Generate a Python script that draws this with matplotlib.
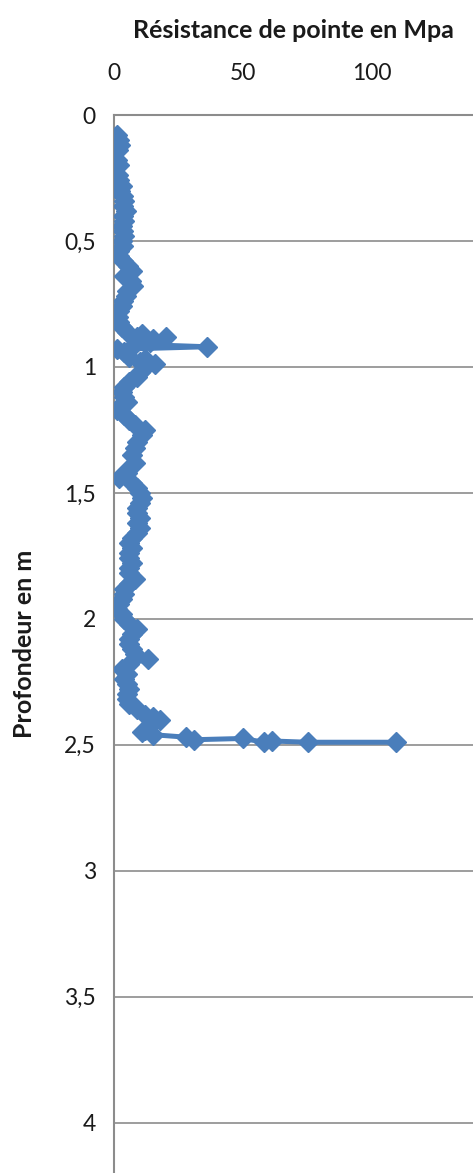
import matplotlib
matplotlib.use("Agg")
import matplotlib.pyplot as plt
from matplotlib.ticker import FuncFormatter, MultipleLocator

BLUE = "#4A7EBB"
GRID_COL = "#8c8c8c"
FONT = ["Lato", "DejaVu Sans"]

# Profondeur (m) et résistance de pointe (MPa)
profondeur = [
    0.08, 0.10, 0.12, 0.14, 0.18, 0.20, 0.24, 0.26, 0.28, 0.30,
    0.32, 0.34, 0.36, 0.38, 0.40, 0.42, 0.44, 0.46, 0.48, 0.50,
    0.52, 0.54, 0.56, 0.58, 0.60, 0.62, 0.64, 0.66, 0.68, 0.70,
    0.72, 0.74, 0.76, 0.78, 0.80, 0.82, 0.84, 0.86, 0.87, 0.88,
    0.89, 0.88, 0.90, 0.91, 0.92, 0.93, 0.94, 0.96, 0.97, 0.98,
    0.99, 1.00, 1.02, 1.04, 1.06, 1.08, 1.10, 1.12, 1.14, 1.16,
    1.17, 1.19, 1.21, 1.23, 1.25, 1.27, 1.30, 1.32, 1.35, 1.38,
    1.40, 1.42, 1.44, 1.46, 1.48, 1.50, 1.52, 1.54, 1.56, 1.58,
    1.60, 1.62, 1.64, 1.66, 1.68, 1.70, 1.72, 1.74, 1.76, 1.78,
    1.80, 1.82, 1.84, 1.86, 1.88, 1.90, 1.92, 1.94, 1.96, 1.98,
    2.00, 2.02, 2.04, 2.06, 2.08, 2.10, 2.12, 2.14, 2.16, 2.18,
    2.20, 2.22, 2.24, 2.26, 2.28, 2.30, 2.32, 2.34, 2.36, 2.38,
    2.39, 2.40, 2.42, 2.44, 2.45, 2.46, 2.47, 2.48, 2.475, 2.49,
    2.485, 2.49, 2.49,
]
resistance = [
    1, 2, 2.5, 1.5, 1, 2, 1.5, 2, 3, 2.5,
    3.5, 4, 3.5, 4.5, 3.5, 4, 3, 3.5, 4, 3,
    3.5, 2, 2, 3.5, 5.5, 7, 4, 6.5, 7.5, 5,
    4.5, 3.5, 3, 2, 1.5, 2, 3, 5, 11, 9,
    15, 20, 14, 8, 36, 1, 4, 6, 12, 10,
    16, 12, 10, 9, 6, 4, 3, 4, 5, 2,
    1, 4, 6, 8, 12, 11, 9, 8, 7, 8,
    6, 5, 2, 7, 9, 10, 11, 10, 9, 9,
    10, 9, 10, 9, 7, 6, 7, 6, 6, 7,
    6, 6, 8, 6, 4, 4, 3, 2, 1, 3,
    4, 6, 9, 7, 6, 6, 7, 8, 13, 6,
    3, 5, 4, 5, 6, 5, 5, 6, 9, 12,
    15, 18, 14, 12, 11, 15, 28, 31, 50, 58,
    61, 75, 109,
]

x_ticks = [0, 50, 100]

fig = plt.figure(figsize=(4.73, 11.73), dpi=100)
ax = fig.add_axes([114 / 473, 0.0, 1 - 114 / 473, 1 - 115 / 1173])

ax.plot(resistance, profondeur, color=BLUE, linewidth=3.6, marker="D",
        markersize=10, markerfacecolor=BLUE, markeredgecolor=BLUE,
        solid_joinstyle="round", zorder=3)

ax.set_xlim(0, 139)
ax.set_ylim(4.2, 0)
ax.set_xticks(x_ticks)
ax.yaxis.set_major_locator(MultipleLocator(0.5))
ax.yaxis.set_major_formatter(FuncFormatter(
    lambda v, p: f"{v:g}".replace(".", ",")))

ax.xaxis.tick_top()
ax.xaxis.set_label_position("top")
ax.tick_params(axis="both", length=0, labelsize=16.5, colors="#1a1a1a")
ax.tick_params(axis="x", pad=22)
ax.tick_params(axis="y", pad=13)

ax.grid(True, axis="y", color=GRID_COL, linewidth=1.2)
ax.set_axisbelow(True)
for side in ["right", "bottom"]:
    ax.spines[side].set_visible(False)
for side in ["left", "top"]:
    ax.spines[side].set_color(GRID_COL)
    ax.spines[side].set_linewidth(1.5)

ax.set_xlabel("Résistance de pointe en Mpa", fontsize=18,
              fontweight="bold", labelpad=18, color="#1a1a1a")
ax.set_ylabel("Profondeur en m", fontsize=18, fontweight="bold",
              labelpad=20, color="#1a1a1a")

for t in ax.get_xticklabels() + ax.get_yticklabels():
    t.set_family(FONT)
ax.xaxis.label.set_family(FONT)
ax.yaxis.label.set_family(FONT)

fig.savefig("out.png", dpi=100)
